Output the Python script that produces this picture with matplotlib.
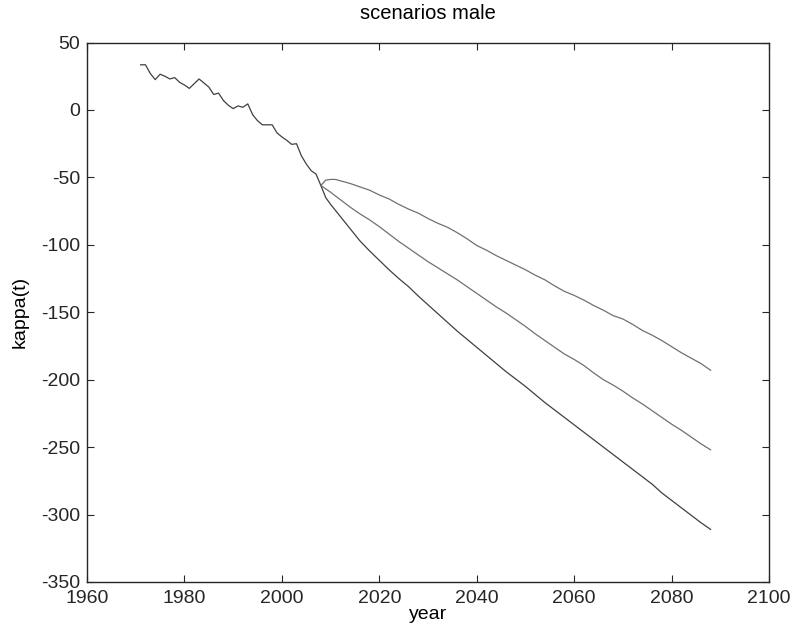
import numpy as np
import matplotlib
matplotlib.use('Agg')
import matplotlib.pyplot as plt

plt.rcParams['font.family'] = ['Liberation Sans', 'DejaVu Sans']
plt.rcParams['axes.unicode_minus'] = False

# historical kappa(t)
hist_years = list(range(1971, 2009))
hist_kappa = [33.5, 33.5, 27, 22.5, 26.5, 25, 23, 24, 20.5, 18.5,
              16, 19.5, 23, 20, 17, 11.5, 12.5, 7, 3.5, 1,
              3, 2, 4.5, -3.5, -8, -11, -11, -11, -17, -20,
              -22.5, -25.5, -25, -34, -40, -45, -47.5, -56]

# scenario projections
proj_years = [2008, 2009, 2010, 2011, 2012] + list(range(2014, 2089, 2))
upper = [-56, -52, -51.5, -51.5, -52.5, -54.5, -57, -59.5, -63, -66,
         -70, -73.5, -76.5, -80.5, -84, -87, -91, -95.5, -100.5, -104,
         -108, -111.5, -115, -118.5, -122.5, -126, -130.5, -134.5, -137.5, -141,
         -145, -148.5, -152.5, -155, -159, -163.5, -167, -171, -175.5, -180,
         -184, -188, -193]
middle = [-56, -58.5, -61, -63.8, -66.5, -72, -77, -81.5, -86.5, -92,
          -97.5, -102.5, -107.5, -112.5, -117, -121.5, -126, -131, -136, -141,
          -146, -150.5, -155.5, -160.5, -166, -171, -176, -181, -185, -189.5,
          -195, -200, -204, -208.5, -213.5, -218, -223, -228, -233, -237.5,
          -242.5, -247.5, -252]
lower = [-56, -65, -70, -74.5, -79, -88, -97, -104.5, -111.5, -118.5,
         -125, -131, -138, -144.5, -151, -157.5, -164, -170, -176, -182,
         -188, -194, -199.5, -205, -211, -217, -222.5, -228, -233.5, -239,
         -244.5, -250, -255.5, -261, -266.5, -272, -277.5, -284, -289.5, -295,
         -300.5, -306, -311]

fig = plt.figure(figsize=(7.94, 6.35), dpi=100)
ax = fig.add_axes([0.1096, 0.0835, 0.859, 0.8495])

ax.plot(hist_years, hist_kappa, color='#404040', lw=0.9)
ax.plot(proj_years, lower, color='#404040', lw=0.9)
ax.plot(proj_years, middle, color='#707070', lw=0.9)
ax.plot(proj_years, upper, color='#707070', lw=0.9)

ax.set_xlim(1960, 2100)
ax.set_ylim(-350, 50)
ax.set_xticks(np.arange(1960, 2101, 20))
ax.set_yticks(np.arange(-350, 51, 50))
ax.tick_params(direction='in', top=True, right=True, length=5, width=0.8,
               labelsize=14, colors='#262626')
ax.tick_params(axis='x', pad=6)
ax.tick_params(axis='y', pad=5)
for s in ax.spines.values():
    s.set_color('#262626')
    s.set_linewidth(1.0)

ax.set_title('scenarios male', fontsize=14.5, pad=17)
ax.set_xlabel('year', fontsize=14, labelpad=-1)
ax.set_ylabel('kappa(t)', fontsize=14, labelpad=9)

fig.savefig('out.png', dpi=100)
